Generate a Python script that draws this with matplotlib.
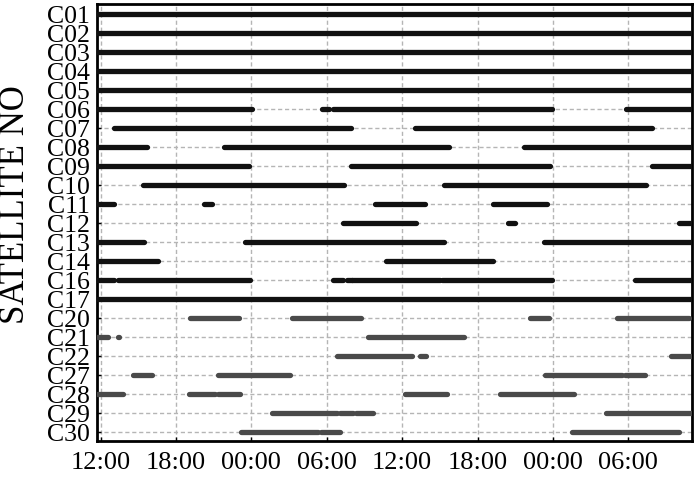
import matplotlib.pyplot as plt

plt.rcParams['font.family'] = ['Liberation Serif', 'DejaVu Serif']

# satellites, top to bottom
sats = ['C01', 'C02', 'C03', 'C04', 'C05', 'C06', 'C07', 'C08', 'C09', 'C10',
        'C11', 'C12', 'C13', 'C14', 'C16', 'C17', 'C20', 'C21', 'C22', 'C27',
        'C28', 'C29', 'C30']

# visible intervals, hours after the first 12:00
T0, T1 = -0.3, 47.1
visible = {
    'C01': [(T0, T1)],
    'C02': [(T0, T1)],
    'C03': [(T0, T1)],
    'C04': [(T0, T1)],
    'C05': [(T0, T1)],
    'C06': [(T0, 12.06), (17.6, 18.2), (18.5, 35.9), (41.8, T1)],
    'C07': [(1.07, 19.9), (25.0, 43.9)],
    'C08': [(T0, 3.7), (9.8, 27.7), (33.7, T1)],
    'C09': [(T0, 11.8), (19.9, 35.8), (43.9, T1)],
    'C10': [(3.4, 19.4), (27.3, 43.4)],
    'C11': [(T0, 1.07), (8.2, 8.9), (21.85, 25.8), (31.2, 35.5)],
    'C12': [(19.3, 25.1), (32.4, 33.0), (46.0, T1)],
    'C13': [(T0, 3.46), (11.5, 27.3), (35.3, T1)],
    'C14': [(T0, 4.6), (22.7, 31.2)],
    'C16': [(T0, 1.1), (1.4, 11.9), (18.5, 19.3), (19.6, 20.0), (20.0, 27.0),
            (27.2, 35.9), (42.5, T1)],
    'C17': [(T0, T1)],
    'C20': [(7.1, 11.0), (15.2, 20.7), (34.2, 35.7), (41.1, 46.8)],
    'C21': [(T0, 0.6), (1.35, 1.45), (21.3, 28.9)],
    'C22': [(18.8, 24.8), (25.4, 25.9), (45.4, T1)],
    'C27': [(2.6, 4.1), (9.35, 15.1), (35.4, 41.5), (41.75, 43.3)],
    'C28': [(T0, 1.8), (7.0, 9.1), (9.35, 11.1), (24.2, 27.6), (31.8, 37.7)],
    'C29': [(13.65, 18.8), (19.05, 20.1), (20.35, 21.7), (40.2, T1)],
    'C30': [(11.2, 17.3), (17.55, 19.05), (37.5, 46.0)],
}
meo = ['C20', 'C21', 'C22', 'C27', 'C28', 'C29', 'C30']

xticks = [0, 6, 12, 18, 24, 30, 36, 42]
xlabels = ['12:00', '18:00', '00:00', '06:00', '12:00', '18:00', '00:00', '06:00']

fig = plt.figure(figsize=(7, 4.78), dpi=100)
ax = fig.add_axes([0.1386, 0.0774, 0.85, 0.9142])

for i, s in enumerate(sats):
    col = '#4a4a4a' if s in meo else '#111111'
    for a, b in visible[s]:
        ax.plot([a, b], [i, i], color=col, lw=3.8, solid_capstyle='round',
                zorder=3)

ax.set_xlim(-0.28, 47.07)
ax.set_ylim(22.45, -0.53)
ax.set_xticks(xticks)
ax.set_xticklabels(xlabels, fontsize=19)
ax.set_yticks(range(len(sats)))
ax.set_yticklabels(sats, fontsize=18.5)
ax.tick_params(direction='in', length=3, width=1)
ax.tick_params(axis='x', pad=8)
ax.tick_params(axis='y', pad=5)

ax.grid(True, color='#b5b5b5', linestyle=(0, (3, 2)), lw=1)
ax.set_axisbelow(True)
for sp in ax.spines.values():
    sp.set_linewidth(2)

ax.set_ylabel('SATELLITE NO', fontsize=25)
ax.yaxis.set_label_coords(-0.11, 0.54)

fig.savefig('out.png')
